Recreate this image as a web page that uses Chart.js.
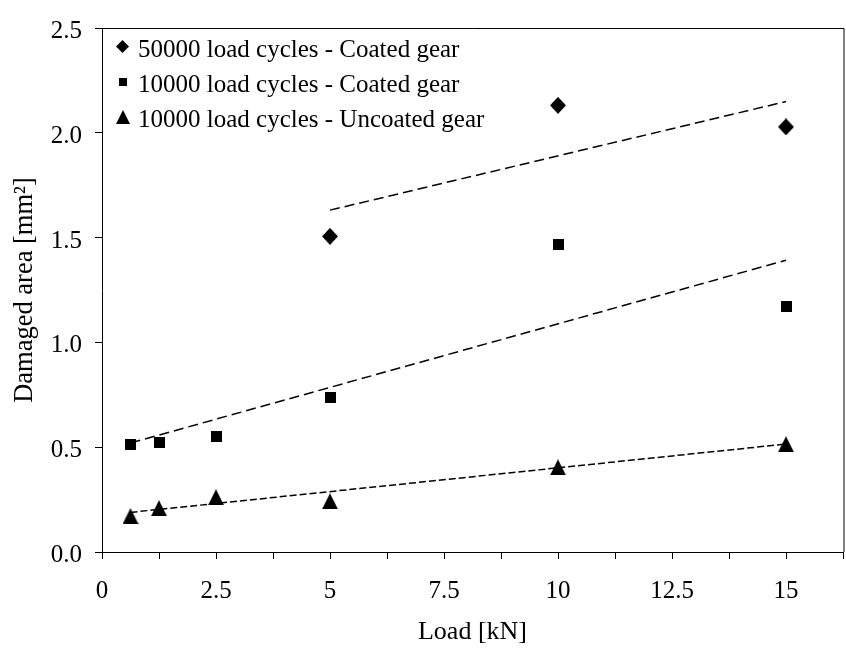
<!DOCTYPE html>
<html><head><meta charset="utf-8">
<script src="https://cdn.jsdelivr.net/npm/chart.js@4.4.0/dist/chart.umd.min.js"></script>
<style>html,body{margin:0;padding:0;overflow:hidden;background:#fff;width:846px;height:648px}canvas{display:block}</style>
</head><body>
<canvas id="c" width="860" height="648"></canvas>
<script>
// ---- data ----
const loads50k = [5, 10, 15];
const coated50k = [1.506, 2.131, 2.028];
const loads10k = [0.625, 1.25, 2.5, 5, 10, 15];
const coated10k = [0.515, 0.523, 0.553, 0.736, 1.465, 1.17];
const uncoated10k = [0.171, 0.209, 0.261, 0.242, 0.404, 0.514];
const trend50kX = [5, 15];
const trend50kY = [1.631, 2.149];
const trendCoatedX = [0.625, 15];
const trendCoatedY = [0.52, 1.392];
const trendUncoatedX = [0.625, 15];
const trendUncoatedY = [0.189, 0.515];
const seriesLabels = ['50000 load cycles - Coated gear', '10000 load cycles - Coated gear', '10000 load cycles - Uncoated gear'];
const xTickValues = [0, 1.25, 2.5, 3.75, 5, 6.25, 7.5, 8.75, 10, 11.25, 12.5, 13.75, 15, 16.25];
const xTickLabels = ['0', '', '2.5', '', '5', '', '7.5', '', '10', '', '12.5', '', '15', ''];
const yTickValues = [0, 0.5, 1, 1.5, 2, 2.5];
const yTickLabels = ['0.0', '0.5', '1.0', '1.5', '2.0', '2.5'];
const xTitle = 'Load [kN]';
const yTitle = 'Damaged area [mm\u00B2]';

const FONT = '"Liberation Serif", "Times New Roman", serif';

function marker(shape, w, h) {
  const c = document.createElement('canvas');
  c.width = w; c.height = h;
  const g = c.getContext('2d');
  g.fillStyle = '#000';
  g.beginPath();
  if (shape === 'diamond') { g.moveTo(w/2, 0); g.lineTo(w, h/2); g.lineTo(w/2, h); g.lineTo(0, h/2); }
  else if (shape === 'square') { g.rect(0, 0, w, h); }
  else { g.moveTo(w/2, 0); g.lineTo(w, h); g.lineTo(0, h); }
  g.closePath(); g.fill();
  return c;
}
const mDiamond = marker('diamond', 16, 17);
const mSquare = marker('square', 11, 11);
const mTriangle = marker('triangle', 16, 16);
const legendMarkers = [marker('diamond', 13, 13), marker('square', 8, 8), marker('triangle', 14, 14)];

const pts = (xs, ys) => xs.map((x, i) => ({x: x, y: ys[i]}));

const frameAndLegend = {
  id: 'frameAndLegend',
  afterDatasetsDraw(chart) {
    const {ctx, chartArea: a} = chart;
    ctx.save();
    ctx.strokeStyle = '#000';
    ctx.lineWidth = 1;
    ctx.beginPath();
    const t = Math.round(a.top) + 0.5;
    ctx.moveTo(Math.round(a.left) + 0.5, t);
    ctx.lineTo(a.right + 1, t);
    ctx.lineTo(a.right + 1, a.bottom);
    ctx.stroke();
    // legend
    ctx.font = '25px ' + FONT;
    ctx.fillStyle = '#000';
    ctx.textBaseline = 'alphabetic';
    const baselines = [57, 92, 127];
    for (let i = 0; i < 3; i++) {
      const m = legendMarkers[i];
      const cy = baselines[i] - 10.5;
      ctx.drawImage(m, Math.round(a.left + 20.5 - m.width / 2), Math.round(cy - m.height / 2));
      ctx.fillText(seriesLabels[i], a.left + 36, baselines[i]);
    }
    ctx.restore();
  }
};

Chart.defaults.font.family = FONT;
Chart.defaults.font.size = 25;
Chart.defaults.color = '#000';

new Chart(document.getElementById('c'), {
  type: 'scatter',
  data: {
    datasets: [
      {label: seriesLabels[0], data: pts(loads50k, coated50k), pointStyle: mDiamond, pointRadius: 8, backgroundColor: '#000', borderColor: '#000'},
      {label: seriesLabels[1], data: pts(loads10k, coated10k), pointStyle: mSquare, pointRadius: 8, backgroundColor: '#000', borderColor: '#000'},
      {label: seriesLabels[2], data: pts(loads10k, uncoated10k), pointStyle: mTriangle, pointRadius: 8, backgroundColor: '#000', borderColor: '#000'},
      {label: 'trend1', data: pts(trend50kX, trend50kY), showLine: true, pointRadius: 0, borderColor: '#000', borderWidth: 1.5, borderDash: [10, 5]},
      {label: 'trend2', data: pts(trendCoatedX, trendCoatedY), showLine: true, pointRadius: 0, borderColor: '#000', borderWidth: 1.5, borderDash: [10, 5]},
      {label: 'trend3', data: pts(trendUncoatedX, trendUncoatedY), showLine: true, pointRadius: 0, borderColor: '#000', borderWidth: 1.5, borderDash: [7, 3]}
    ]
  },
  options: {
    responsive: false,
    animation: false,
    layout: {padding: {left: 0, top: 19, right: 7.25, bottom: 0}},
    plugins: {legend: {display: false}, tooltip: {enabled: false}},
    scales: {
      x: {
        type: 'linear', min: 0, max: 16.25,
        afterFit: s => { s.height = 96; },
        afterBuildTicks: s => { s.ticks = xTickValues.map(v => ({value: v})); },
        ticks: {autoSkip: false, maxRotation: 0, padding: 17, callback: (v, i) => xTickLabels[i]},
        grid: {display: true, drawOnChartArea: false, drawTicks: true, tickLength: 7, tickColor: '#000', lineWidth: 1},
        border: {display: true, color: '#000', width: 1},
        title: {display: true, text: xTitle, font: {size: 26}, padding: {top: 0, bottom: 0}}
      },
      y: {
        type: 'linear', min: 0, max: 2.5,
        afterFit: s => { s.width = 102; },
        afterBuildTicks: s => { s.ticks = yTickValues.map(v => ({value: v})); },
        ticks: {padding: 13, labelOffset: 3.5, callback: (v, i) => yTickLabels[i]},
        grid: {display: true, drawOnChartArea: false, drawTicks: true, tickLength: 7, tickColor: '#000', lineWidth: 1},
        border: {display: true, color: '#000', width: 1},
        title: {display: true, text: yTitle, font: {size: 26.5}, padding: {top: 9, bottom: 0}}
      }
    }
  },
  plugins: [frameAndLegend]
});
</script>
</body></html>
